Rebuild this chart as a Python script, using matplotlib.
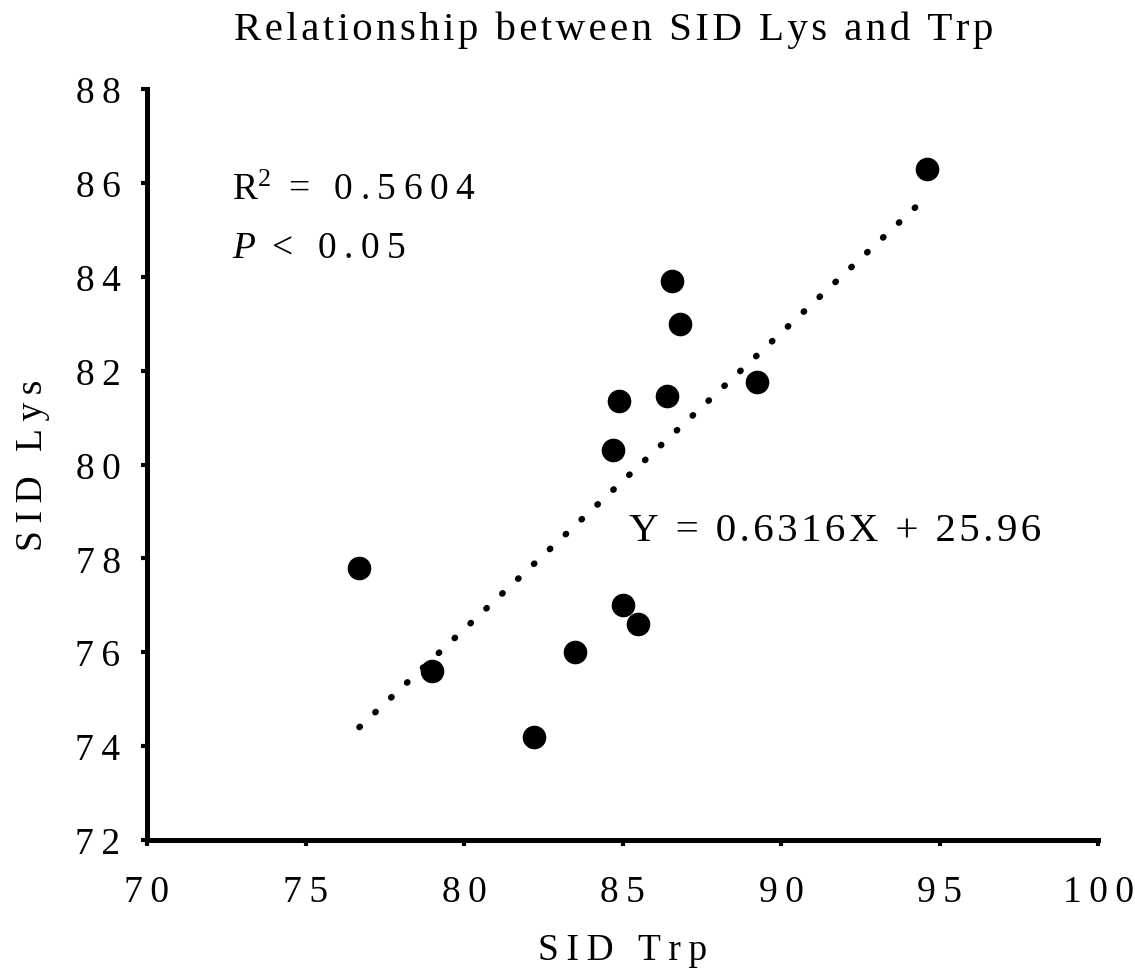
import numpy as np
import matplotlib.pyplot as plt
from matplotlib.ticker import FuncFormatter

plt.rcParams['font.family'] = ['Liberation Serif', 'DejaVu Serif']
plt.rcParams['mathtext.fontset'] = 'custom'
plt.rcParams['mathtext.rm'] = 'Liberation Serif'
plt.rcParams['mathtext.it'] = 'Liberation Serif:italic'

# data
sid_trp = [76.7, 79.0, 82.2, 83.5, 84.7, 84.9, 85.0, 85.5, 86.4, 86.55, 86.8, 89.25, 94.6]
sid_lys = [77.8, 75.6, 74.2, 76.0, 80.3, 81.35, 77.0, 76.6, 81.45, 83.9, 83.0, 81.75, 86.3]
slope = 0.6316
intercept = 25.96
x_ticks = [70, 75, 80, 85, 90, 95, 100]
y_ticks = [72, 74, 76, 78, 80, 82, 84, 86, 88]

THIN = '\u2009'  # letter spacing like the original
HAIR = '\u200a'


def spaced(s, sp=THIN):
    return sp.join(s)


fig = plt.figure(figsize=(11.35, 9.7), dpi=100)
ax = fig.add_axes([0.1295, 0.133, 0.838, 0.7742])

# dotted linear trendline over the data range
xs = np.array([min(sid_trp), max(sid_trp)])
ax.plot(xs, slope * xs + intercept, color='black', lw=4.6,
        linestyle=(0, (0.1, 3.3)), dash_capstyle='round', zorder=2)
ax.scatter(sid_trp, sid_lys, s=16 ** 2, color='black', zorder=3)

ax.set_xlim(70, 100)
ax.set_ylim(72, 88)
ax.set_xticks(x_ticks)
ax.set_yticks(y_ticks)
fmt = FuncFormatter(lambda v, p: spaced(str(int(round(v)))))
ax.xaxis.set_major_formatter(fmt)
ax.yaxis.set_major_formatter(fmt)

for side in ['top', 'right']:
    ax.spines[side].set_visible(False)
for side in ['left', 'bottom']:
    ax.spines[side].set_linewidth(3.6)
ax.tick_params(direction='out', length=4, width=3, labelsize=27)
ax.tick_params(axis='x', pad=21)
ax.tick_params(axis='y', pad=15)

ax.set_xlabel(spaced('SID Trp'), fontsize=27, labelpad=17)
ax.set_ylabel(spaced('SID Lys'), fontsize=27, labelpad=18)
fig.text(0.541, 1 - 30 / 970, spaced('Relationship between SID Lys and Trp', HAIR),
         ha='center', va='center', fontsize=29.5)

ax.text(72.68, 85.66, 'R$^{2}$' + THIN + ' ' + spaced('= 0.5604'), fontsize=27, va='baseline')
ax.text(72.68, 84.42, '$P$' + THIN + ' ' + spaced('< 0.05'), fontsize=27, va='baseline')
ax.text(85.2, 78.40, spaced('Y = 0.6316X + 25.96', HAIR), fontsize=29.5, va='baseline')

fig.savefig('out.png', dpi=100)
